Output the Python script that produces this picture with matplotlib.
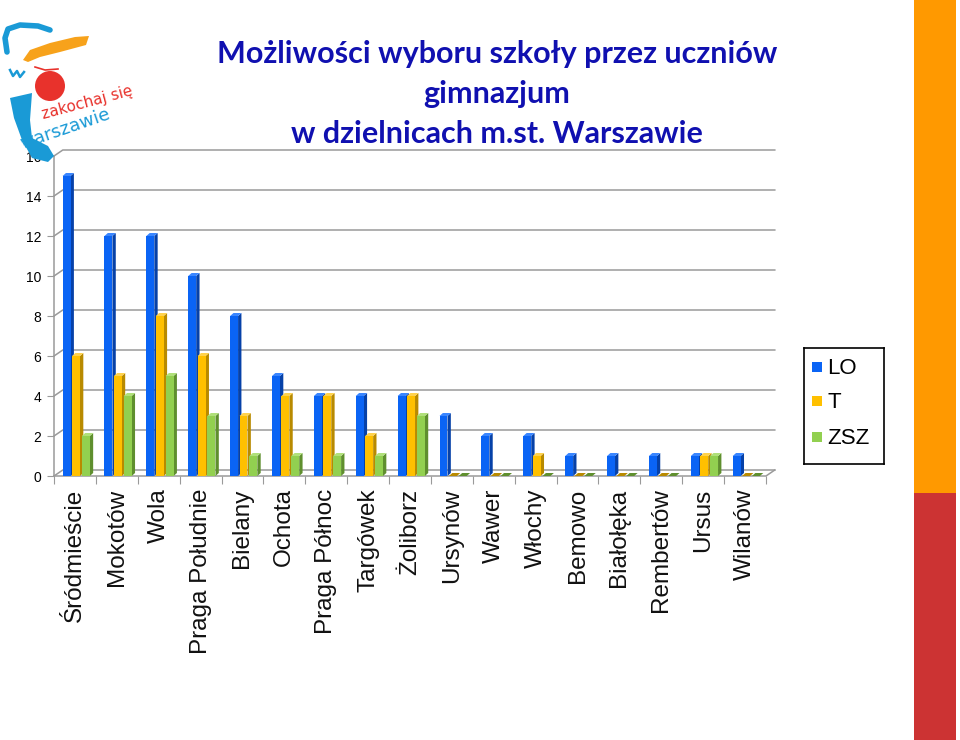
import numpy as np
import matplotlib.pyplot as plt
from matplotlib.patches import Polygon, Rectangle, Circle

# dane
dzielnice = ['Śródmieście', 'Mokotów', 'Wola', 'Praga Południe', 'Bielany', 'Ochota',
             'Praga Północ', 'Targówek', 'Żoliborz', 'Ursynów', 'Wawer', 'Włochy',
             'Bemowo', 'Białołęka', 'Rembertów', 'Ursus', 'Wilanów']
lo = [15, 12, 12, 10, 8, 5, 4, 4, 4, 3, 2, 2, 1, 1, 1, 1, 1]
t = [6, 5, 8, 6, 3, 4, 4, 2, 4, 0, 0, 1, 0, 0, 0, 1, 0]
zsz = [2, 4, 5, 3, 1, 1, 1, 1, 3, 0, 0, 0, 0, 0, 0, 1, 0]
serie = ['LO', 'T', 'ZSZ']
yticks = list(range(0, 17, 2))

face = ['#0a64f5', '#ffc000', '#92d050']
side = ['#0641a8', '#b88a00', '#5f8f2e']
top = ['#3a86ff', '#ffd24d', '#b0e07a']

fig = plt.figure(figsize=(9.6, 7.4), dpi=100)
W, H = 960, 740

def fr(x0, y0, x1, y1):
    # prostokat w pikselach (od gory) -> wspolrzedne figury
    return [x0 / W, 1 - y1 / H, (x1 - x0) / W, (y1 - y0) / H]

ax = fig.add_axes(fr(54, 156, 766, 476))
n = len(dzielnice)
x = np.arange(n)
ax.set_xlim(-0.5, n - 0.5)
ax.set_ylim(0, 16)

# efekt 3D - przesuniecie sciany tylnej i boku slupka
wdx, wdy = 0.21, 0.3
sdx, sdy = 0.08, 0.15
grid_c = '#9a9a9a'
for v in yticks:
    ax.plot([-0.5, -0.5 + wdx, n - 0.5 + wdx], [v, v + wdy, v + wdy], color=grid_c,
            lw=1.1, clip_on=False, zorder=1)
ax.plot([-0.5, n - 0.5, n - 0.5 + wdx], [0, 0, wdy], color=grid_c, lw=1.1,
        clip_on=False, zorder=1)

offs = [-0.2, 0.025, 0.26]
bw = 0.19
dane = [lo, t, zsz]
for i in range(n):
    for k in range(3):
        h = dane[k][i]
        xc = x[i] + offs[k]
        x0, x1 = xc - bw / 2, xc + bw / 2
        ax.add_patch(Polygon([(x1, 0), (x1 + sdx, sdy), (x1 + sdx, h + sdy), (x1, h)],
                             closed=True, fc=side[k], ec='none', zorder=3 + k))
        ax.add_patch(Polygon([(x0, h), (x1, h), (x1 + sdx, h + sdy), (x0 + sdx, h + sdy)],
                             closed=True, fc=top[k] if h > 0 else side[k], ec='none',
                             zorder=3 + k))
        ax.bar(xc, h, width=bw, color=face[k], zorder=3 + k, linewidth=0)

for s in ['top', 'right', 'bottom']:
    ax.spines[s].set_visible(False)
ax.spines['left'].set_color(grid_c)
ax.spines['left'].set_linewidth(1.1)

ax.set_yticks(yticks)
ax.set_yticklabels([str(v) for v in yticks], fontsize=10, family='Liberation Sans')
ax.tick_params(axis='y', length=5, color=grid_c, pad=4)

ax.set_xticks(np.arange(-0.5, n, 1.0))
ax.set_xticklabels([])
ax.tick_params(axis='x', which='major', length=6, color=grid_c)
ax.set_xticks(x, minor=True)
ax.set_xticklabels(dzielnice, minor=True, rotation=90, fontsize=17.5,
                   family='Liberation Sans', va='top', ha='center', color='#111111')
ax.tick_params(axis='x', which='minor', length=0, pad=9)

# legenda
lax = fig.add_axes(fr(804, 348, 884, 464))
lax.set_xlim(0, 80)
lax.set_ylim(116, 0)
lax.set_xticks([])
lax.set_yticks([])
for s in lax.spines.values():
    s.set_linewidth(1.2)
for k, (nm, yy) in enumerate(zip(serie, [19, 53, 89])):
    lax.add_patch(Rectangle((8, yy - 5), 10, 10, fc=face[k], ec='none'))
    lax.text(23, yy + 1, nm, fontsize=16, family='Liberation Sans', va='center')

# pasy po prawej
fig.patches.append(Rectangle((914 / W, 1 - 493 / H), 42 / W, 493 / H,
                             transform=fig.transFigure, fc='#ff9900', ec='none'))
fig.patches.append(Rectangle((914 / W, 0), 42 / W, 1 - 493 / H,
                             transform=fig.transFigure, fc='#cc3333', ec='none'))

# tytul
tc = '#1010b0'
for txt, yb in zip(['Możliwości wyboru szkoły przez uczniów', 'gimnazjum',
                    'w dzielnicach m.st. Warszawie'], [63, 103, 143]):
    fig.text(497 / W, 1 - yb / H, txt, fontsize=22, fontweight='bold', family='Lato',
             color=tc, ha='center', va='baseline')

# logo (przyblizenie)
gax = fig.add_axes(fr(0, 15, 135, 165))
gax.set_xlim(0, 135)
gax.set_ylim(165, 15)
gax.axis('off')
cy = '#1a9ad6'
gax.plot([7, 5, 8, 20, 38, 50], [52, 38, 29, 25, 26, 30], color=cy, lw=4,
         solid_capstyle='round')
gax.plot([10, 13, 17, 20, 24], [70, 76, 71, 77, 72], color=cy, lw=1.8)
gax.add_patch(Polygon([(23, 60), (30, 50), (50, 43), (75, 37), (89, 36), (86, 45),
                       (60, 52), (40, 57), (28, 62)], fc='#f7a21b', ec='none'))
gax.plot([35, 45, 58], [67, 70, 69], color='#e8322c', lw=1.2)
gax.add_patch(Circle((50, 86), 15, fc='#e8322c', ec='none'))
gax.add_patch(Polygon([(10, 98), (32, 93), (30, 120), (32, 138), (48, 146), (54, 156),
                       (48, 162), (32, 158), (22, 140), (14, 118)], fc=cy, ec='none'))
gax.text(43, 119, 'zakochaj się', fontsize=11, color='#e8322c', rotation=15,
         rotation_mode='anchor', ha='left', va='baseline', family='DejaVu Sans')
gax.text(22, 149, 'warszawie', fontsize=13, color=cy, rotation=19,
         rotation_mode='anchor', ha='left', va='baseline', family='DejaVu Sans')

fig.savefig('out.png', dpi=100)
